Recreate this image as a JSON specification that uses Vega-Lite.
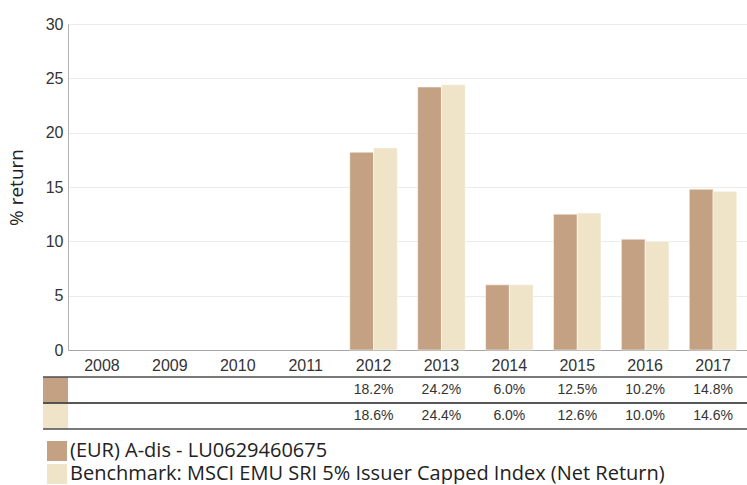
{
  "$schema": "https://vega.github.io/schema/vega-lite/v6.json",
  "padding": {"left": 7, "top": 16, "right": 0, "bottom": 0},
  "background": "white",
  "spacing": 3,
  "config": {"view": {"stroke": null}, "font": "Liberation Sans"},
  "datasets": {
    "returns": [
      {"year": 2012, "series": "(EUR) A-dis - LU0629460675", "value": 18.2},
      {"year": 2013, "series": "(EUR) A-dis - LU0629460675", "value": 24.2},
      {"year": 2014, "series": "(EUR) A-dis - LU0629460675", "value": 6.0},
      {"year": 2015, "series": "(EUR) A-dis - LU0629460675", "value": 12.5},
      {"year": 2016, "series": "(EUR) A-dis - LU0629460675", "value": 10.2},
      {"year": 2017, "series": "(EUR) A-dis - LU0629460675", "value": 14.8},
      {"year": 2012, "series": "Benchmark: MSCI EMU SRI 5% Issuer Capped Index (Net Return)", "value": 18.6},
      {"year": 2013, "series": "Benchmark: MSCI EMU SRI 5% Issuer Capped Index (Net Return)", "value": 24.4},
      {"year": 2014, "series": "Benchmark: MSCI EMU SRI 5% Issuer Capped Index (Net Return)", "value": 6.0},
      {"year": 2015, "series": "Benchmark: MSCI EMU SRI 5% Issuer Capped Index (Net Return)", "value": 12.6},
      {"year": 2016, "series": "Benchmark: MSCI EMU SRI 5% Issuer Capped Index (Net Return)", "value": 10.0},
      {"year": 2017, "series": "Benchmark: MSCI EMU SRI 5% Issuer Capped Index (Net Return)", "value": 14.6}
    ]
  },
  "vconcat": [
    {
      "width": 679,
      "height": 326,
      "data": {"name": "returns"},
      "mark": {"type": "bar", "stroke": "#ffffff", "strokeWidth": 1, "strokeOpacity": 0.5},
      "encoding": {
        "x": {
          "field": "year",
          "type": "ordinal",
          "scale": {"domain": [2008, 2009, 2010, 2011, 2012, 2013, 2014, 2015, 2016, 2017], "paddingInner": 0.3, "paddingOuter": 0.15},
          "axis": {"title": null, "labelAngle": 0, "ticks": false, "tickSize": 0, "labelFontSize": 16, "labelColor": "#333333", "domainColor": "#a6a6a6", "labelPadding": 7}
        },
        "xOffset": {
          "field": "series",
          "scale": {"domain": ["(EUR) A-dis - LU0629460675", "Benchmark: MSCI EMU SRI 5% Issuer Capped Index (Net Return)"], "paddingInner": 0, "paddingOuter": 0}
        },
        "y": {
          "field": "value",
          "type": "quantitative",
          "scale": {"domain": [0, 30], "nice": false},
          "axis": {
            "title": "% return",
            "titleFont": "Open Sans",
            "titleFontSize": 19,
            "titleFontWeight": "normal",
            "titleColor": "#222222",
            "titlePadding": 19,
            "values": [0, 5, 10, 15, 20, 25, 30],
            "ticks": false,
            "tickSize": 0,
            "labelPadding": 5,
            "labelFontSize": 16,
            "labelColor": "#333333",
            "gridColor": "#ebebeb",
            "domainColor": "#b3b3b3"
          }
        },
        "color": {
          "field": "series",
          "type": "nominal",
          "scale": {"domain": ["(EUR) A-dis - LU0629460675", "Benchmark: MSCI EMU SRI 5% Issuer Capped Index (Net Return)"], "range": ["#c4a183", "#efe3c8"]},
          "legend": {
            "title": null,
            "orient": "none",
            "legendX": -21,
            "legendY": 417,
            "direction": "vertical",
            "symbolType": "square",
            "symbolSize": 400,
            "symbolStrokeWidth": 0,
            "symbolOpacity": 1,
            "labelFont": "Open Sans",
            "labelFontSize": 20,
            "labelColor": "#222222",
            "labelOffset": 3,
            "rowPadding": 3,
            "labelLimit": 800
          }
        }
      }
    },
    {
      "width": 679,
      "height": 52,
      "data": {"name": "returns"},
      "transform": [{"calculate": "format(datum.value, '.1f') + '%'", "as": "label"}],
      "encoding": {
        "y": {
          "field": "series",
          "type": "nominal",
          "scale": {"domain": ["(EUR) A-dis - LU0629460675", "Benchmark: MSCI EMU SRI 5% Issuer Capped Index (Net Return)"], "paddingInner": 0, "paddingOuter": 0},
          "axis": null
        }
      },
      "layer": [
        {
          "transform": [{"aggregate": [{"op": "count", "as": "n"}], "groupby": ["series"]}],
          "mark": {"type": "rect"},
          "encoding": {
            "x": {"datum": 2007.132, "type": "quantitative", "scale": {"domain": [2007.5, 2017.5], "nice": false, "zero": false}, "axis": null},
            "x2": {"datum": 2007.5},
            "color": {"field": "series", "type": "nominal"}
          }
        },
        {
          "mark": {"type": "text", "fontSize": 14, "color": "#333333", "align": "center", "baseline": "middle"},
          "encoding": {
            "x": {"field": "year", "type": "quantitative", "scale": {"domain": [2007.5, 2017.5], "nice": false, "zero": false}, "axis": null},
            "text": {"field": "label"}
          }
        },
        {
          "transform": [{"aggregate": [{"op": "count", "as": "n"}], "groupby": ["series"]}],
          "mark": {"type": "rule", "color": "#4d4d4d", "strokeWidth": 1.5},
          "encoding": {
            "x": {"datum": 2007.132, "type": "quantitative"},
            "x2": {"datum": 2017.5},
            "y": {"field": "series", "type": "nominal", "bandPosition": 0}
          }
        },
        {
          "transform": [{"aggregate": [{"op": "count", "as": "n"}], "groupby": ["series"]}],
          "mark": {"type": "rule", "color": "#4d4d4d", "strokeWidth": 1.5},
          "encoding": {
            "x": {"datum": 2007.132, "type": "quantitative"},
            "x2": {"datum": 2017.5},
            "y": {"field": "series", "type": "nominal", "bandPosition": 1}
          }
        }
      ]
    }
  ]
}
